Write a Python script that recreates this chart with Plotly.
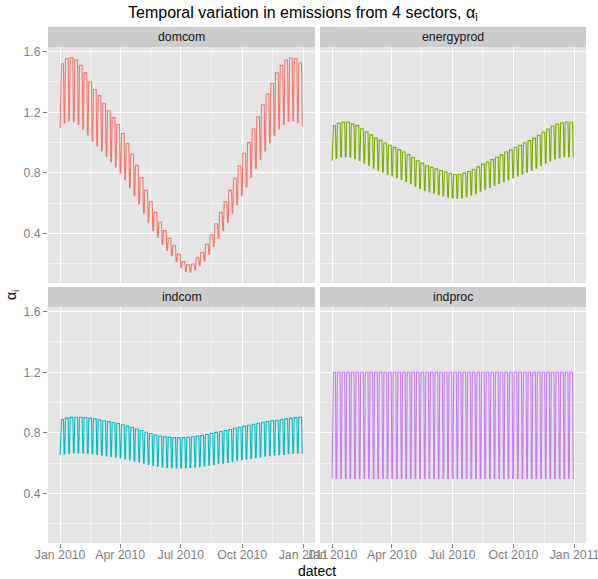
import pandas as pd
import plotly.graph_objects as go

# ---------------- data ----------------
# daily series for 2010: each week has 5 "high" days followed by 2 "low" days;
# the first day (Jan 1) is a low day.
sectors = ["domcom", "energyprod", "indcom", "indproc"]
colors = ["#F8766D", "#7CAE00", "#00BFC4", "#C77CFF"]

# weekly level on high days (52 weeks)
domcom_high = [1.52, 1.555, 1.56, 1.545, 1.51, 1.46, 1.40, 1.35, 1.31, 1.26, 1.21, 1.165, 1.12,
               1.06, 0.995, 0.925, 0.85, 0.77, 0.685, 0.61, 0.54, 0.475, 0.42, 0.37, 0.32, 0.265,
               0.215, 0.195, 0.20, 0.24, 0.275, 0.33, 0.39, 0.465, 0.54, 0.61, 0.685, 0.765, 0.845,
               0.93, 1.00, 1.09, 1.17, 1.25, 1.32, 1.39, 1.46, 1.51, 1.545, 1.56, 1.555, 1.525]
# weekly level on low days (53 entries, first one = Jan 1)
domcom_low = [1.095, 1.13, 1.145, 1.14, 1.12, 1.09, 1.05, 1.01, 0.98, 0.945, 0.91, 0.875, 0.84,
              0.80, 0.755, 0.705, 0.65, 0.595, 0.535, 0.475, 0.42, 0.375, 0.33, 0.29, 0.255, 0.215,
              0.175, 0.15, 0.145, 0.16, 0.19, 0.22, 0.265, 0.315, 0.37, 0.42, 0.475, 0.535, 0.59,
              0.65, 0.71, 0.77, 0.83, 0.89, 0.945, 1.00, 1.045, 1.09, 1.12, 1.14, 1.145, 1.13, 1.11]

energyprod_high = [1.113, 1.128, 1.135, 1.136, 1.124, 1.112, 1.092, 1.072, 1.051, 1.03, 1.015, 0.998,
                   0.983, 0.969, 0.954, 0.938, 0.921, 0.902, 0.881, 0.865, 0.848, 0.837, 0.827, 0.816,
                   0.806, 0.797, 0.79, 0.791, 0.799, 0.81, 0.823, 0.84, 0.858, 0.872, 0.888, 0.904,
                   0.919, 0.938, 0.953, 0.97, 0.983, 0.999, 1.014, 1.03, 1.049, 1.07, 1.09, 1.11,
                   1.122, 1.131, 1.136, 1.134]
energyprod_low = [0.881, 0.896, 0.905, 0.908, 0.904, 0.894, 0.882, 0.866, 0.849, 0.832, 0.818, 0.805,
                  0.792, 0.781, 0.769, 0.757, 0.744, 0.729, 0.713, 0.698, 0.685, 0.674, 0.666, 0.657,
                  0.649, 0.641, 0.635, 0.632, 0.636, 0.644, 0.653, 0.665, 0.679, 0.692, 0.704, 0.717,
                  0.729, 0.743, 0.756, 0.769, 0.781, 0.793, 0.805, 0.818, 0.832, 0.848, 0.864, 0.88,
                  0.893, 0.901, 0.907, 0.908, 0.907]

indcom_high = [0.888, 0.898, 0.903, 0.904, 0.904, 0.902, 0.898, 0.893, 0.887, 0.881, 0.875, 0.869,
               0.862, 0.854, 0.845, 0.836, 0.826, 0.816, 0.805, 0.796, 0.787, 0.78, 0.776, 0.773,
               0.77, 0.769, 0.769, 0.771, 0.775, 0.779, 0.784, 0.79, 0.797, 0.804, 0.809, 0.816,
               0.823, 0.831, 0.838, 0.845, 0.851, 0.857, 0.864, 0.871, 0.876, 0.881, 0.884, 0.889,
               0.893, 0.898, 0.901, 0.903]
indcom_low = [0.655, 0.661, 0.666, 0.669, 0.669, 0.668, 0.666, 0.663, 0.659, 0.654, 0.65, 0.645,
              0.64, 0.635, 0.629, 0.622, 0.615, 0.608, 0.60, 0.592, 0.586, 0.58, 0.576, 0.573,
              0.571, 0.569, 0.569, 0.57, 0.572, 0.575, 0.578, 0.582, 0.587, 0.592, 0.597, 0.601,
              0.606, 0.612, 0.618, 0.623, 0.628, 0.632, 0.637, 0.642, 0.646, 0.65, 0.653, 0.656,
              0.659, 0.663, 0.666, 0.667, 0.668]

indproc_high = [1.2] * 52
indproc_low = [0.5] * 53

x_ticks = ["2010-01-01", "2010-04-01", "2010-07-01", "2010-10-01", "2011-01-01"]
x_tick_labels = ["Jan 2010", "Apr 2010", "Jul 2010", "Oct 2010", "Jan 2011"]
x_minor = ["2010-02-15", "2010-05-16", "2010-08-16", "2010-11-16"]
y_ticks = [0.4, 0.8, 1.2, 1.6]
y_minor = [0.2, 0.6, 1.0, 1.4]

dates = pd.date_range("2010-01-01", "2010-12-31", freq="D")


def build(high, low):
    vals = [low[0]]
    for d in range(1, len(dates)):
        k, pos = divmod(d - 1, 7)
        vals.append(high[k] if pos < 5 else low[k + 1])
    return vals


series = {
    "domcom": build(domcom_high, domcom_low),
    "energyprod": build(energyprod_high, energyprod_low),
    "indcom": build(indcom_high, indcom_low),
    "indproc": build(indproc_high, indproc_low),
}

# ---------------- layout geometry ----------------
W, H = 598, 579
ML, MR, MT, MB = 48, 12, 27, 36
PW, PH = W - ML - MR, H - MT - MB


def px_x(p):
    return (p - ML) / PW


def px_y(p):
    return 1 - (p - MT) / PH


xdoms = [[0, px_x(315)], [px_x(320), 1]]
ydoms = [[px_y(283), px_y(47)], [0, px_y(307)]]
strips = [[px_y(47), 1], [px_y(307), px_y(287)]]

all_vals = [v for s in series.values() for v in s]
ymin, ymax = min(all_vals), max(all_vals)
yr = [ymin - 0.05 * (ymax - ymin), ymax + 0.05 * (ymax - ymin)]
span = dates[-1] - dates[0]
xr = [(dates[0] - 0.05 * span).isoformat(), (dates[-1] + 0.05 * span).isoformat()]

FONT = "Liberation Sans, Arial, sans-serif"
GREY = "#7F7F7F"
TICK_SIZE = 12.3

fig = go.Figure()
layout = dict(
    width=W, height=H, autosize=False,
    margin=dict(l=ML, r=MR, t=MT, b=MB, pad=0, autoexpand=False),
    paper_bgcolor="white", plot_bgcolor="#E5E5E5",
    showlegend=False,
    font=dict(family=FONT, size=12, color="black"),
)
shapes, annots = [], []
for i, name in enumerate(sectors):
    r, c = divmod(i, 2)
    sfx = "" if i == 0 else str(i + 1)
    fig.add_trace(go.Scatter(x=dates, y=series[name], mode="lines",
                             line=dict(color=colors[i], width=1.1),
                             xaxis="x" + sfx, yaxis="y" + sfx, name=name,
                             hoverinfo="skip"))
    show_x = r == 1
    show_y = c == 0
    layout["xaxis" + sfx] = dict(
        domain=xdoms[c], anchor="y" + sfx, range=xr, type="date", automargin=False,
        tickmode="array", tickvals=x_ticks, ticktext=x_tick_labels,
        showticklabels=show_x, ticks="outside" if show_x else "",
        ticklen=4, tickwidth=1, tickcolor=GREY, ticklabelstandoff=-4,
        ticklabeloverflow="allow",
        tickfont=dict(family=FONT, size=TICK_SIZE, color=GREY),
        showgrid=True, gridcolor="white", gridwidth=1.2,
        zeroline=False, showline=False, fixedrange=True,
        minor=dict(tickmode="array", tickvals=x_minor, showgrid=True,
                   gridcolor="#F2F2F2", gridwidth=0.6, ticks=""),
    )
    layout["yaxis" + sfx] = dict(
        domain=ydoms[r], anchor="x" + sfx, range=yr, automargin=False,
        tickmode="array", tickvals=y_ticks, ticktext=[f"{v:.1f}" for v in y_ticks],
        showticklabels=show_y, ticks="outside" if show_y else "",
        ticklen=4, tickwidth=1, tickcolor=GREY, ticklabeloverflow="allow",
        tickfont=dict(family=FONT, size=TICK_SIZE, color=GREY),
        showgrid=True, gridcolor="white", gridwidth=1.2,
        zeroline=False, showline=False, fixedrange=True,
        minor=dict(tickmode="array", tickvals=y_minor, showgrid=True,
                   gridcolor="#F2F2F2", gridwidth=0.6, ticks=""),
    )
    shapes.append(dict(type="rect", xref="paper", yref="paper",
                       x0=xdoms[c][0], x1=xdoms[c][1], y0=strips[r][0], y1=strips[r][1],
                       fillcolor="#CCCCCC", line=dict(width=0), layer="below"))
    annots.append(dict(text=name, xref="paper", yref="paper",
                       x=(xdoms[c][0] + xdoms[c][1]) / 2, y=(strips[r][0] + strips[r][1]) / 2,
                       xanchor="center", yanchor="middle", showarrow=False,
                       font=dict(family=FONT, size=12.3, color="#1A1A1A")))

annots.append(dict(text="Temporal variation in emissions from 4 sectors, α<sub>i</sub>",
                   xref="paper", yref="paper", x=px_x(303), y=px_y(14),
                   xanchor="center", yanchor="middle", showarrow=False,
                   font=dict(family=FONT, size=16, color="black")))
annots.append(dict(text="datect", xref="paper", yref="paper", x=px_x(317), y=px_y(571),
                   xanchor="center", yanchor="middle", showarrow=False,
                   font=dict(family=FONT, size=14, color="black")))
annots.append(dict(text="α<sub>i</sub>", xref="paper", yref="paper", x=px_x(12), y=px_y(295),
                   xanchor="center", yanchor="middle", showarrow=False, textangle=-90,
                   font=dict(family=FONT, size=14, color="black")))

layout["shapes"] = shapes
layout["annotations"] = annots
fig.update_layout(**layout)

post = ("document.documentElement.style.overflow='hidden';"
        "document.body.style.margin='0';document.body.style.overflow='hidden';")
fig.write_html("out.html", config={"responsive": False, "displayModeBar": False},
               post_script=post)
